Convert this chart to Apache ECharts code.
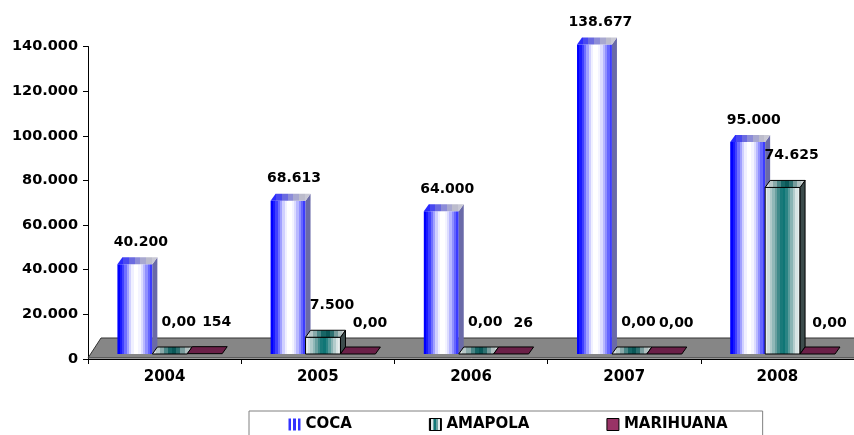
<!DOCTYPE html>
<html>
<head>
<meta charset="utf-8">
<script src="https://cdn.jsdelivr.net/npm/echarts@6/dist/echarts.min.js"></script>
<style>
  html, body { margin: 0; padding: 0; background: #fff; }
  #chart { width: 854px; height: 435px; }
</style>
</head>
<body>
<div id="chart"></div>
<script>
const years = ['2004', '2005', '2006', '2007', '2008'];
const coca = [40200, 68613, 64000, 138677, 95000];
const amapola = [0, 7500, 0, 0, 74625];
const marihuana = [154, 0, 26, 0, 0];
const yTicks = [0, 20000, 40000, 60000, 80000, 100000, 120000, 140000];

const FONT = '"DejaVu Sans", Verdana, sans-serif';

// striped gradient like the old excel fill
const bands = (colors) => {
  const stops = [];
  colors.forEach((c, i) => {
    stops.push({offset: i / colors.length, color: c});
    stops.push({offset: (i + 1) / colors.length, color: c});
  });
  return new echarts.graphic.LinearGradient(0, 0, 1, 0, stops);
};

const fmt = (v) => v === 0 ? '0,00' : String(v).replace(/\B(?=(\d{3})+(?!\d))/g, '.');

const looks = [
  {
    front: bands(['#0000ff', '#1a1aff', '#4040ff', '#7070ff', '#a0a0ff', '#d0d0ff', '#f0f0ff', '#ffffff',
      '#ffffff', '#f4f4ff', '#dcdcff', '#b8b8ff', '#9090ff', '#6666ff', '#3c3cff']),
    side: '#6a6aa8',
    top: bands(['#2a2aff', '#4848f0', '#6a6ae0', '#8c8cd8', '#a8a8d0', '#bcbccc', '#c8c8d4']),
    stroke: null,
    lx: 6, ly: -22
  },
  {
    front: bands(['#e8eeee', '#d0dede', '#b0caca', '#90b8b8', '#6aa0a0', '#3f8a8a', '#1a7a7a', '#0f7676',
      '#2a8484', '#5a9c9c', '#8ab4b4', '#b4cccc', '#d8e4e4', '#e8eeee']),
    side: '#3c4c4c',
    top: bands(['#d8dede', '#b8c8c8', '#8aaaaa', '#4a8686', '#176666', '#0a5858', '#2e7070', '#789c9c', '#b0c0c0', '#c8d0d0']),
    stroke: '#000',
    lx: 9, ly: -32
  },
  {
    front: '#993366',
    side: '#4a1030',
    top: '#6b2048',
    stroke: '#000',
    lx: 12, ly: -31
  }
];

const DX = 5, DY = -7;

const barRender = (k) => (params, api) => {
  const i = api.value(0);
  const v = api.value(1);
  const bw = api.size([1, 0])[0];
  const c0 = api.coord([i, 0]);
  const w = bw * 0.228;
  const x0 = c0[0] - bw / 2 + bw * 0.192 + k * w;
  const base = c0[1] - 5;
  const top = api.coord([i, v])[1] - 5;
  const lk = looks[k];
  const stroke = lk.stroke ? {stroke: lk.stroke, lineWidth: 1} : {};
  const kids = [];
  if (base - top > 0.5) {
    kids.push({
      type: 'rect',
      shape: {x: x0, y: top, width: w, height: base - top},
      style: Object.assign({fill: lk.front}, stroke)
    });
    kids.push({
      type: 'polygon',
      shape: {points: [[x0 + w, top], [x0 + w + DX, top + DY], [x0 + w + DX, base + DY], [x0 + w, base]]},
      style: Object.assign({fill: lk.side}, stroke)
    });
  }
  kids.push({
    type: 'polygon',
    shape: {points: [[x0, top], [x0 + DX, top + DY], [x0 + w + DX, top + DY], [x0 + w, top]]},
    style: Object.assign({fill: lk.top}, stroke)
  });
  kids.push({
    type: 'text',
    style: {
      text: fmt(v),
      x: x0 + w / 2 + lk.lx,
      y: top + lk.ly,
      align: 'center',
      verticalAlign: 'middle',
      fill: '#000',
      fontFamily: FONT,
      fontWeight: 'bold',
      fontSize: 14
    }
  });
  return {type: 'group', children: kids};
};

const floorRender = (params, api) => {
  const cs = params.coordSys;
  const yb = cs.y + cs.height - 1;
  return {
    type: 'polygon',
    shape: {points: [[cs.x, yb], [cs.x + 13, yb - 20], [cs.x + cs.width + 20, yb - 20], [cs.x + cs.width + 20, yb]]},
    style: {fill: '#868686', stroke: '#333', lineWidth: 1}
  };
};

const seriesData = [coca, amapola, marihuana];
const names = ['COCA', 'AMAPOLA', 'MARIHUANA'];
const legendColors = [
  bands(['#3333ff', '#ffffff', '#3333ff', '#ffffff', '#3333ff']),
  bands(['#000000', '#e0eaea', '#6aa0a0', '#0f7676', '#6aa0a0', '#e0eaea', '#000000']),
  '#993366'
];

const chart = echarts.init(document.getElementById('chart'));
chart.setOption({
  animation: false,
  backgroundColor: '#fff',
  grid: {left: 88, right: 0, top: 46.5, bottom: 76},
  legend: {
    left: 249,
    top: 411,
    itemWidth: 12,
    itemHeight: 12,
    itemGap: 77,
    padding: [6, 35, 12, 39],
    borderColor: '#808080',
    borderWidth: 1,
    textStyle: {fontFamily: FONT, fontWeight: 'bold', fontSize: 15, color: '#000'},
    data: names.map((n, k) => ({
      name: n,
      icon: 'rect',
      itemStyle: {color: legendColors[k], borderColor: k === 0 ? 'transparent' : '#000', borderWidth: 1}
    }))
  },
  xAxis: {
    type: 'category',
    data: years,
    axisLine: {lineStyle: {color: '#000', width: 1}},
    axisTick: {show: true, length: 5, lineStyle: {color: '#000'}},
    axisLabel: {fontFamily: FONT, fontWeight: 'bold', fontSize: 15, color: '#000', margin: 11}
  },
  yAxis: {
    type: 'value',
    min: yTicks[0],
    max: yTicks[yTicks.length - 1],
    interval: yTicks[1] - yTicks[0],
    axisLine: {show: true, lineStyle: {color: '#000', width: 1}},
    axisTick: {show: true, length: 5, lineStyle: {color: '#000'}},
    splitLine: {show: false},
    axisLabel: {
      fontFamily: FONT, fontWeight: 'bold', fontSize: 14.5, color: '#000', margin: 10,
      formatter: (v) => fmt(v).replace('0,00', '0')
    }
  },
  series: [
    {
      name: 'floor',
      type: 'custom',
      z: 1,
      silent: true,
      renderItem: floorRender,
      data: [[0, 0]]
    }
  ].concat(seriesData.map((d, k) => ({
    name: names[k],
    type: 'custom',
    z: 2,
    itemStyle: {color: legendColors[k]},
    renderItem: barRender(k),
    data: d.map((v, i) => [i, v])
  })))
});
</script>
</body>
</html>
